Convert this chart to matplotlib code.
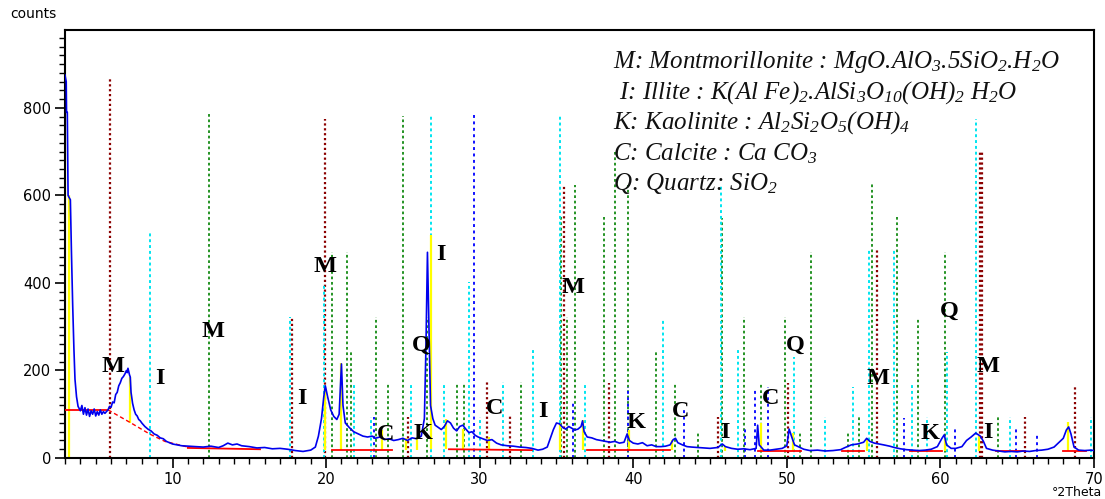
import matplotlib
matplotlib.use("Agg")
import matplotlib.pyplot as plt
from matplotlib.ticker import MultipleLocator

plt.rcParams['mathtext.fontset'] = 'custom'
plt.rcParams['mathtext.rm'] = 'Liberation Serif:italic'
plt.rcParams['mathtext.it'] = 'Liberation Serif:italic'

# ---------------- data ----------------
scan_x = [3.0, 3.08, 3.1, 3.15, 3.2, 3.35, 3.42, 3.5, 3.58, 3.65, 3.75, 3.85, 4.0, 4.1, 4.2, 4.3, 4.4, 4.5,
          4.6, 4.7, 4.8, 4.9, 5.0, 5.1, 5.2, 5.3, 5.4, 5.5, 5.6, 5.8, 5.9, 6.0, 6.1, 6.2, 6.3, 6.4, 6.5,
          6.6, 6.7, 6.8, 6.9, 7.0, 7.05, 7.1, 7.2, 7.25, 7.3, 7.4, 7.5, 7.6, 7.7, 7.8, 7.9, 8.0, 8.2, 8.4,
          8.6, 8.8, 9.0, 9.2, 9.4, 9.6, 9.8, 10.0, 10.3, 10.6, 11.0, 11.5, 12.0, 12.5, 13.0, 13.3, 13.6,
          13.9, 14.2, 14.5, 15.0, 15.5, 16.0, 16.5, 17.0, 17.5, 18.0, 18.5, 19.0, 19.3, 19.5, 19.7, 19.85,
          19.95, 20.1, 20.3, 20.5, 20.7, 20.85, 20.95, 21.0, 21.1, 21.25, 21.5, 21.8, 22.1, 22.4, 22.7,
          23.0, 23.2, 23.5, 23.8, 24.1, 24.4, 24.7, 25.0, 25.3, 25.6, 25.9, 26.2, 26.4, 26.5, 26.6, 26.7,
          26.8, 26.95, 27.1, 27.3, 27.5, 27.7, 27.9, 28.1, 28.3, 28.5, 28.7, 28.9, 29.1, 29.3, 29.5, 29.7,
          29.9, 30.2, 30.5, 30.8, 31.1, 31.4, 31.8, 32.2, 32.6, 33.0, 33.4, 33.8, 34.1, 34.4, 34.6, 34.8,
          35.0, 35.2, 35.4, 35.6, 35.8, 36.0, 36.2, 36.4, 36.6, 36.7, 36.8, 37.0, 37.3, 37.6, 37.9, 38.2,
          38.5, 38.8, 39.1, 39.4, 39.6, 39.75, 40.0, 40.3, 40.6, 40.9, 41.2, 41.5, 41.8, 42.1, 42.4, 42.6,
          42.75, 42.9, 43.2, 43.5, 43.8, 44.2, 44.6, 45.0, 45.5, 45.8, 46.0, 46.4, 46.8, 47.2, 47.6, 48.0,
          48.1, 48.2, 48.5, 48.9, 49.3, 49.7, 50.0, 50.15, 50.3, 50.5, 50.8, 51.1, 51.5, 52.0, 52.5, 53.0,
          53.5, 53.8, 54.2, 54.6, 55.0, 55.2, 55.4, 55.7, 56.0, 56.3, 56.7, 57.0, 57.4, 57.8, 58.2, 58.6,
          59.0, 59.4, 59.8, 60.1, 60.25, 60.4, 60.7, 61.0, 61.4, 61.7, 62.0, 62.3, 62.6, 62.8, 63.0, 63.4,
          63.8, 64.2, 64.6, 65.0, 65.4, 65.8, 66.2, 66.6, 67.0, 67.4, 67.7, 68.0, 68.2, 68.35, 68.5, 68.7,
          69.0, 69.4, 69.8, 70.0]
scan_y = [875, 860, 790, 790, 600, 590, 470, 350, 250, 180, 140, 118, 108, 120, 100, 115, 98, 112,
          95, 108, 100, 112, 96, 106, 98, 110, 100, 106, 102, 110, 118, 116, 128, 126, 145, 150, 165,
          172, 182, 186, 192, 200, 195, 205, 190, 185, 150, 125, 110, 100, 96, 88, 85, 80, 72, 66,
          62, 55, 52, 46, 44, 38, 35, 32, 30, 28, 27, 26, 25, 27, 24, 28, 34,
          30, 32, 28, 26, 23, 24, 21, 22, 20, 17, 15, 18, 25, 50, 90, 140,
          165, 140, 110, 95, 88, 100, 180, 215, 120, 80, 70, 60, 55, 50, 48,
          50, 45, 48, 42, 44, 40, 42, 45, 40, 46, 44, 50, 90, 250, 470, 300,
          120, 90, 75, 70, 65, 72, 85, 80, 68, 62, 72, 75, 66, 58, 60, 52,
          48, 44, 40, 42, 34, 30, 28, 27, 25, 24, 22, 18, 20, 25, 45, 65,
          80, 78, 70, 66, 72, 68, 64, 66, 72, 85, 60, 48, 46, 42, 40, 38,
          36, 38, 34, 36, 55, 40, 34, 32, 35, 28, 30, 26, 26, 27, 30, 42,
          45, 35, 30, 26, 25, 24, 23, 22, 24, 32, 26, 22, 20, 21, 19, 22,
          75, 30, 18, 18, 20, 22, 28, 66, 50, 30, 25, 20, 17, 18, 16, 17,
          19, 24, 30, 32, 36, 45, 38, 34, 32, 30, 27, 24, 21, 19, 18, 17,
          18, 20, 26, 45, 53, 30, 22, 22, 26, 40, 48, 57, 50, 38, 22, 18,
          16, 14, 15, 14, 16, 15, 17, 18, 20, 25, 35, 45, 64, 71, 55, 25,
          18, 17, 18, 17]

# background (red) segments: start x, end x, start y, end y
bg_x0 = [3.0, 11.0, 20.4, 28.0, 37.0, 48.1, 53.6, 58.0, 63.6, 68.0]
bg_x1 = [5.8, 15.7, 24.3, 33.4, 42.4, 50.9, 55.0, 60.1, 65.5, 69.5]
bg_y0 = [110, 23, 18, 20, 18, 16, 16, 16, 16, 16]
bg_y1 = [110, 20, 18, 18, 18, 16, 16, 16, 16, 16]
bg_dash_x = [5.8, 7.3, 8.5, 9.5, 11.0]
bg_dash_y = [110, 80, 55, 38, 25]

# identified peaks (yellow sticks): position, base, top
pk_x = [3.02, 3.25, 7.25, 19.9, 21.0, 23.65, 25.2, 25.9, 26.8, 27.8, 28.9, 30.6, 35.2, 36.7,
        39.7, 42.5, 46.0, 48.3, 50.4, 55.2, 60.3, 62.5, 68.3]
pk_lo = [0, 0, 80, 18, 18, 18, 18, 18, 20, 20, 20, 18, 18, 18,
         18, 18, 16, 16, 16, 16, 16, 16, 16]
pk_hi = [875, 600, 185, 160, 217, 65, 45, 48, 510, 90, 66, 48, 80, 87,
         65, 42, 28, 80, 57, 45, 45, 50, 82]

# reference patterns (dotted sticks): position and height
maroon_x = [5.9, 17.8, 19.9, 25.35, 30.5, 31.95, 35.5, 38.4, 45.5, 50.05, 55.9, 62.55, 62.7, 65.5, 68.75]
maroon_h = [868, 322, 775, 94, 174, 98, 624, 171, 94, 171, 475, 700, 700, 94, 167]
green_x = [12.35, 20.4, 21.35, 21.6, 23.25, 24.0, 25.0, 26.55, 28.55, 28.95, 32.7, 35.3, 35.7,
           36.2, 38.1, 38.8, 39.65, 41.5, 42.7, 44.2, 45.8, 47.2, 48.3, 49.85, 50.85, 51.6,
           53.95, 54.7, 55.55, 57.15, 58.55, 60.3, 63.75]
green_h = [789, 470, 470, 247, 322, 171, 782, 322, 171, 171, 174, 555, 322,
           624, 551, 700, 624, 247, 171, 60, 548, 322, 171, 322, 60, 470,
           57, 94, 628, 551, 320, 470, 94]
cyan_x = [8.55, 17.65, 19.85, 21.8, 22.95, 25.5, 26.8, 27.7, 29.3, 30.0, 31.55, 33.45, 35.2,
          36.85, 41.95, 45.7, 46.85, 50.45, 52.5, 54.3, 55.35, 57.0, 58.15, 59.1, 60.45,
          62.3, 64.5, 69.8]
cyan_h = [514, 322, 400, 171, 94, 171, 782, 171, 402, 94, 174, 247, 782,
          171, 320, 624, 247, 231, 94, 162, 475, 475, 167, 94, 242,
          775, 94, 94]
blue_x = [23.1, 29.6, 36.05, 39.65, 43.3, 47.3, 47.9, 48.8, 57.65, 60.95, 64.9, 66.3]
blue_h = [94, 784, 125, 162, 114, 70, 156, 162, 91, 70, 70, 57]

# phase letters
lab_txt = ['M', 'I', 'M', 'I', 'M', 'C', 'K', 'Q', 'I', 'C', 'I', 'M', 'K', 'C', 'I', 'C', 'Q',
           'M', 'K', 'Q', 'M', 'I']
lab_x = [6.15, 9.2, 12.65, 18.4, 19.95, 23.9, 26.3, 26.2, 27.5, 31.0, 34.1, 36.05, 40.2, 43.1,
         46.0, 48.95, 50.55, 55.95, 59.3, 60.6, 63.1, 63.1]
lab_y = [208, 182, 288, 135, 437, 53, 55, 258, 466, 112, 107, 389, 80, 107,
         59, 135, 258, 182, 55, 336, 210, 59]

legend_lines = [
    r"M: Montmorillonite : MgO.AlO$_3$.5SiO$_2$.H$_2$O",
    r" I: Illite : K(Al Fe)$_2$.AlSi$_3$O$_{10}$(OH)$_2$ H$_2$O",
    r"K: Kaolinite : Al$_2$Si$_2$O$_5$(OH)$_4$",
    r"C: Calcite : Ca CO$_3$",
    r"Q: Quartz: SiO$_2$",
]

x_ticks = [10, 20, 30, 40, 50, 60, 70]
y_ticks = [0, 200, 400, 600, 800]

# ---------------- plot ----------------
fig = plt.figure(figsize=(11.05, 4.99), dpi=100)
ax = fig.add_axes([65 / 1105, 1 - 458 / 499, (1094 - 65) / 1105, (458 - 30) / 499])

ax.vlines(maroon_x, 0, maroon_h, colors='#8b0000', linestyles=(0, (1, 1.2)), linewidth=1.6, zorder=1)
ax.vlines(green_x, 0, green_h, colors='#138a13', linestyles=(0, (1.5, 1.5)), linewidth=1.3, zorder=1)
ax.vlines(cyan_x, 0, cyan_h, colors='#00e5f0', linestyles=(0, (1.5, 1.5)), linewidth=1.4, zorder=1)
ax.vlines(blue_x, 0, blue_h, colors='#1010ff', linestyles=(0, (1.5, 1.8)), linewidth=1.4, zorder=1)

ax.vlines(pk_x, pk_lo, pk_hi, colors='#ffff00', linewidth=1.6, zorder=2)

for x0, x1, y0, y1 in zip(bg_x0, bg_x1, bg_y0, bg_y1):
    ax.plot([x0, x1], [y0, y1], color='#ff0000', linewidth=1.3, zorder=3)
ax.plot(bg_dash_x, bg_dash_y, color='#ff0000', linewidth=1.0, linestyle=(0, (3, 2)), zorder=3)

ax.plot(scan_x, scan_y, color='#0000ee', linewidth=1.2, zorder=4)

for t, x, y in zip(lab_txt, lab_x, lab_y):
    ax.text(x, y, t, family='Liberation Serif', fontweight='bold', fontsize=17.5,
            ha='center', va='center', color='black', zorder=5)

for i, line in enumerate(legend_lines):
    ax.text(613 / 1105, 1 - (62 + 30.5 * i) / 499, line, transform=fig.transFigure,
            family='Liberation Serif', style='italic', fontsize=18, va='center', ha='left',
            color='#111111', zorder=6)

ax.set_xlim(3, 70)
ax.set_ylim(0, 978)
ax.set_xticks(x_ticks)
ax.set_yticks(y_ticks)
ax.xaxis.set_minor_locator(MultipleLocator(1))
ax.yaxis.set_minor_locator(MultipleLocator(20))
ax.tick_params(which='major', length=7, width=1.2, labelsize=10.5, pad=3)
ax.tick_params(which='minor', length=4, width=1.0)
ax.tick_params(axis='x', which='major', pad=3)
for s in ax.spines.values():
    s.set_linewidth(1.5)

fig.text(10 / 1105, 1 - 14 / 499, "counts", fontsize=10, va='center', ha='left')
fig.text(1102 / 1105, 1 - 492 / 499, "°2Theta", fontsize=9, va='center', ha='right')

fig.savefig("out.png", dpi=100)
